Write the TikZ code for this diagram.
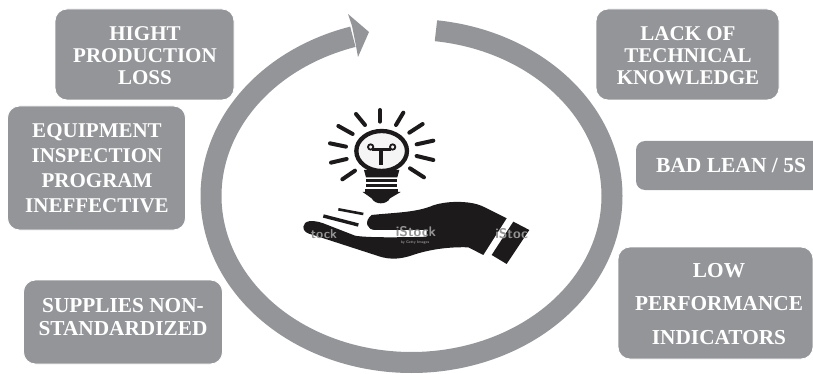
\documentclass[tikz,border=0pt]{standalone}
\usepackage{fontspec}
\setmainfont{Liberation Serif}
\definecolor{gr}{HTML}{939598}
\definecolor{ink}{HTML}{1C1A1B}
\tikzset{x=1pt,y=-1pt,
 boxb/.style={fill=gr,draw=white,line width=0.8pt,rounded corners=12pt,inner sep=0pt},
 lbl/.style={text=white,font=\bfseries\fontsize{21}{22}\selectfont,align=center,inner sep=0pt},
 ray/.style={draw=ink,line width=4pt,line cap=round},
 wm/.style={text=black!42,inner sep=0pt}}
\begin{document}
\begin{tikzpicture}
\useasboundingbox (0,0) rectangle (813,374);
% ring
\draw[gr,line width=21pt] plot[domain=83:-253,samples=240,smooth] ({411.5+200.5*cos(\x)},{196-166.5*sin(\x)});
\fill[gr] (369,32) -- (348,14) -- (352,26) -- (356,46) -- (358,57) -- cycle;
% boxes
\node[boxb,minimum width=179pt,minimum height=91pt] (a) at (144.5,54.5) {};
\node[lbl] (ta) at (145,56) {HIGHT\\PRODUCTION\\LOSS};
\node[boxb,minimum width=178pt,minimum height=124pt] (b) at (96.5,168) {};
\node[lbl,font=\bfseries\fontsize{21}{25}\selectfont] (tb) at (97,168) {EQUIPMENT\\INSPECTION\\PROGRAM\\INEFFECTIVE};
\node[boxb,minimum width=199pt,minimum height=84pt] (c) at (123,322) {};
\node[lbl,font=\bfseries\fontsize{21.3}{22.5}\selectfont] (tc) at (123,317) {SUPPLIES NON-\\STANDARDIZED};
\node[boxb,minimum width=183pt,minimum height=91pt] (d) at (687.5,54.5) {};
\node[lbl] (td) at (688,56) {LACK OF\\TECHNICAL\\KNOWLEDGE};
\fill[gr,rounded corners=9pt] (813,141) -- (636,141) -- (636,190) -- (813,190);
\fill[gr] (800,141) rectangle (813,190);
\node[lbl,font=\bfseries\fontsize{21.5}{22}\selectfont] (te) at (731,165.5) {BAD LEAN / 5S};
\node[boxb,minimum width=195pt,minimum height=112pt] (f) at (715.5,303) {};
\node[lbl,font=\bfseries\fontsize{21.3}{33.5}\selectfont] (tf) at (719,304) {LOW\\PERFORMANCE\\INDICATORS};
% icon
\begin{scope}[shift={(280,90)},x=0.3333pt,y=-0.3333pt]
 \draw[ray] (300,60)--(300,95);
 \draw[ray] (228,72)--(255,105);
 \draw[ray] (370,68)--(348,105);
 \draw[ray] (175,108)--(218,132);
 \draw[ray] (428,102)--(388,128);
 \draw[ray] (150,160)--(198,170);
 \draw[ray] (460,152)--(410,163);
 \draw[ray] (153,218)--(200,207);
 \draw[ray] (460,210)--(410,198);
 \draw[ray] (187,268)--(225,242);
 \draw[ray] (432,262)--(390,235);
 % bulb
 \draw[ink,line width=4.3pt,fill=black!4] (305,183) ellipse[x radius=76,y radius=60];
 \fill[ink] (252,240) -- (358,240) -- (352,262) -- (258,262) -- cycle;
 \fill[ink] (258,268) rectangle (352,277);
 \fill[ink] (258,283) rectangle (352,291);
 \fill[ink] (256,297) rectangle (354,306);
 \fill[ink] (248,306) -- (362,306) -- (330,325) .. controls (320,345) and (285,345) .. (275,325) -- cycle;
 \draw[ink,line width=4.4pt] (303,225) -- (303,178);
 \draw[ink,line width=3.6pt] (276,178) -- (332,178);
 \draw[ink,line width=1.8pt] (272,171) circle[radius=8];
 \draw[ink,line width=1.8pt] (338,171) circle[radius=8];
 % hand
 \fill[ink] (70,410) .. controls (72,392) and (95,388) .. (130,400) -- (225,437) .. controls (260,444) and (380,442) .. (440,440)
   -- (440,420) -- (285,420) .. controls (262,420) and (250,395) .. (275,375)
   .. controls (340,368) and (400,368) .. (450,350) .. controls (490,332) and (570,330) .. (610,350) -- (680,385) -- (610,495) -- (565,472)
   .. controls (500,470) and (440,480) .. (390,498) .. controls (350,510) and (320,508) .. (285,495) -- (100,435) .. controls (80,430) and (70,425) .. (70,410) -- cycle;
 \fill[ink] (700,395) -- (748,420) -- (680,522) -- (635,495) -- cycle;
 \draw[ink,line width=3.4pt] (130,378) -- (235,405);
 \draw[ink,line width=2.6pt] (175,358) -- (250,372);
 \node[wm,font=\sffamily\bfseries\fontsize{13}{13}\selectfont] (w1) at (132,433) {tock};
 \node[wm,font=\sffamily\bfseries\fontsize{14}{14}\selectfont] (w2) at (408,426) {iStock};
 \node[wm,font=\sffamily\bfseries\fontsize{3.8}{4}\selectfont] (w3) at (405,458) {by Getty Images};
 \node[wm,font=\sffamily\bfseries\fontsize{14}{14}\selectfont] (w4) at (695,430) {iStoc};
\end{scope}
\end{tikzpicture}
\end{document}
